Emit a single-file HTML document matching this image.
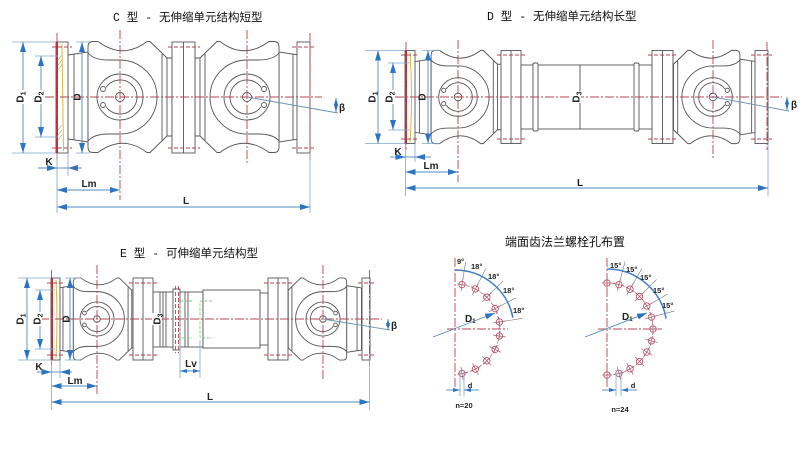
<!DOCTYPE html>
<html><head><meta charset="utf-8">
<style>
html,body{margin:0;padding:0;background:#fff;}
svg{display:block;}
.t{font-family:"Liberation Mono","Noto Sans CJK SC",monospace;font-size:11.5px;fill:#111;}
.t2{font-family:"Liberation Sans","Noto Sans CJK SC",sans-serif;font-size:12px;fill:#111;}
.o{stroke:#555;stroke-width:0.9;fill:#fff;}
.on{stroke:#555;stroke-width:0.9;fill:none;}
.cl{stroke:#b54452;stroke-width:0.9;stroke-dasharray:9 2 2 2;fill:none;}
.bd{stroke:#b54452;stroke-width:0.9;stroke-dasharray:4 2;fill:none;}
.dm{stroke:#4f89c2;stroke-width:0.9;fill:none;}
.ex{stroke:#7fa8d0;stroke-width:0.8;fill:none;}
.lb{font-family:"Liberation Sans",sans-serif;font-weight:bold;font-size:10px;fill:#222;}
.sm{font-family:"Liberation Sans",sans-serif;font-weight:bold;font-size:7.5px;fill:#222;}
</style></head><body>
<svg width="810" height="449" viewBox="0 0 810 449" xmlns="http://www.w3.org/2000/svg">
<defs>
<marker id="ah" viewBox="0 0 10 6" refX="10" refY="3" markerWidth="10" markerHeight="6" markerUnits="userSpaceOnUse" orient="auto-start-reverse"><path d="M0,0 L10,3 L0,6 Z" fill="#2b74c2"/></marker>
<marker id="as" viewBox="0 0 7 4" refX="7" refY="2" markerWidth="7" markerHeight="4" markerUnits="userSpaceOnUse" orient="auto-start-reverse"><path d="M0,0 L7,2 L0,4 Z" fill="#2b74c2"/></marker>
<g id="yk">
 <path class="o" vector-effect="non-scaling-stroke" d="M-52,-42 L-32,-45 L-32,45 L-52,42 Z"/>
 <path class="on" vector-effect="non-scaling-stroke" d="M-46,-43 V43"/>
 <rect class="o" vector-effect="non-scaling-stroke" x="46" y="-39" width="6" height="78"/>
 <path class="o" vector-effect="non-scaling-stroke" d="M-32,-50 Q-32,-55.5 -27,-55.5 L-22,-55.5 Q3,-37 27,-55.5 L30,-55.5 L47,-39 L47,39 L30,55.5 L27,55.5 Q3,37 -22,55.5 L-27,55.5 Q-32,55.5 -32,50 Z"/>
 <path class="on" vector-effect="non-scaling-stroke" d="M-32,-44 Q-26,-37 -12,-37 L0,-37 A37,37 0 0 1 0,37 L-12,37 Q-26,37 -32,44"/>
 <path class="on" vector-effect="non-scaling-stroke" d="M42,-43 V43"/>
 <circle class="on" vector-effect="non-scaling-stroke" r="23"/>
 <path class="on" vector-effect="non-scaling-stroke" d="M-14,-9.6 A17,17 0 1 1 -14,9.6"/>
 <circle class="on" vector-effect="non-scaling-stroke" cx="-17" cy="-8" r="2.5"/>
 <circle class="on" vector-effect="non-scaling-stroke" cx="-17" cy="8" r="2.5"/>
 <circle class="on" vector-effect="non-scaling-stroke" r="4.5"/>
</g>
<g id="hl"><circle r="3.2" fill="none" stroke="#c25064" stroke-width="0.9"/><line x1="0" y1="-6.5" x2="0" y2="6.5" stroke="#a06070" stroke-width="0.7"/><line x1="-5" y1="0" x2="5" y2="0" stroke="#a06070" stroke-width="0.7"/></g>
</defs>

<!-- ============ C TYPE ============ -->
<text class="t" x="113" y="21">C 型 - 无伸缩单元结构短型</text>
<use href="#yk" transform="translate(120,97)"/>
<use href="#yk" transform="translate(247,97) scale(-1,1)"/>
<rect class="o" x="56" y="42" width="12" height="111"/>
<rect class="o" x="172" y="42" width="23" height="111"/><line class="on" x1="183.5" y1="42" x2="183.5" y2="153"/>
<rect class="o" x="297" y="42" width="13" height="111"/>
<line x1="57" y1="42" x2="57" y2="153" stroke="#c42a36" stroke-width="2"/>
<line x1="62" y1="44" x2="63.5" y2="151" stroke="#dcb838" stroke-width="1"/>
<path d="M58,60 L62,55 M58,65 L62,60 M58,70 L62,65 M58,130 L62,125 M58,135 L62,130 M58,140 L62,135" stroke="#9aaa70" stroke-width="0.6"/>
<path class="cl" d="M45,97 H322 M57,33 V160 M120,30 V200 M247,30 V165 M310,33 V160"/>
<path class="bd" d="M52,47 H72 M52,148 H72 M168,47 H200 M168,148 H200 M292,47 H315 M292,148 H315"/>
<path class="ex" d="M12,42 H56 M12,153 H56 M35,56 H58 M35,137 H58 M76,42 H90 M76,153 H90 M57,153 V213 M68,153 V176 M310,153 V213"/>
<line class="dm" x1="23" y1="42" x2="23" y2="153" marker-start="url(#ah)" marker-end="url(#ah)"/>
<line class="dm" x1="41" y1="56" x2="41" y2="137" marker-start="url(#ah)" marker-end="url(#ah)"/>
<line class="dm" x1="82" y1="42" x2="82" y2="153" marker-start="url(#ah)" marker-end="url(#ah)"/>
<line class="dm" x1="38" y1="168" x2="57" y2="168" marker-end="url(#ah)"/>
<line class="dm" x1="82" y1="168" x2="68" y2="168" marker-end="url(#ah)"/>
<line class="dm" x1="57" y1="168" x2="68" y2="168"/>
<line class="dm" x1="57" y1="190" x2="120" y2="190" marker-start="url(#ah)" marker-end="url(#ah)"/>
<line class="dm" x1="57" y1="207" x2="310" y2="207" marker-start="url(#ah)" marker-end="url(#ah)"/>
<line x1="247" y1="97" x2="338" y2="113" stroke="#6a92b0" stroke-width="0.9"/>
<line class="dm" x1="336" y1="98" x2="336" y2="112" marker-start="url(#as)" marker-end="url(#as)"/>
<g transform="translate(20,97) rotate(-90)"><rect x="-7" y="-5" width="14" height="10" fill="#fff"/><text class="lb" text-anchor="middle" y="3.5">D<tspan font-size="7" dy="2">1</tspan></text></g>
<g transform="translate(38,97) rotate(-90)"><rect x="-7" y="-5" width="14" height="10" fill="#fff"/><text class="lb" text-anchor="middle" y="3.5">D<tspan font-size="7" dy="2">2</tspan></text></g>
<g transform="translate(77,97) rotate(-90)"><text class="lb" text-anchor="middle" y="3.5">D</text></g>
<text class="lb" x="49" y="165" text-anchor="middle">K</text>
<text class="lb" x="89" y="187" text-anchor="middle">Lm</text>
<text class="lb" x="186" y="204" text-anchor="middle">L</text>
<text class="lb" x="339" y="111">β</text>

<!-- ============ D TYPE ============ -->
<text class="t" x="487" y="20">D 型 - 无伸缩单元结构长型</text>
<use href="#yk" transform="translate(458,97) scale(.84)"/>
<use href="#yk" transform="translate(713,97) scale(-.84,.84)"/>
<rect class="o" x="405" y="50.5" width="10" height="93"/>
<rect class="o" x="501" y="50.5" width="20" height="93"/><line class="on" x1="511" y1="50.5" x2="511" y2="143.5"/>
<rect class="o" x="521" y="65" width="131" height="64"/>
<rect class="o" x="533" y="63" width="5" height="68" rx="1.5"/>
<rect class="o" x="634" y="63" width="5" height="68" rx="1.5"/>
<line class="on" x1="580" y1="65" x2="580" y2="129"/>
<rect class="o" x="652" y="50.5" width="21" height="93"/><line class="on" x1="662.5" y1="50.5" x2="662.5" y2="143.5"/>
<rect class="o" x="755" y="50.5" width="13" height="93"/>
<line x1="406" y1="50.5" x2="406" y2="143.5" stroke="#c42a36" stroke-width="2"/>
<path d="M410,52 Q413,97 410,142" stroke="#dcb838" stroke-width="1" fill="none"/>
<path class="cl" d="M395,97 H782 M406,42 V150 M458,40 V182 M713,40 V160 M767,42 V150"/>
<path class="bd" d="M401,55 H419 M401,139 H419 M497,55 H525 M497,139 H525 M648,55 H677 M648,139 H677 M751,55 H772 M751,139 H772"/>
<path class="ex" d="M365,50.5 H405 M365,143.5 H405 M388,63 H410 M388,130 H410 M422,50.5 H440 M422,143.5 H440 M405.5,143.5 V196 M415,143.5 V162 M768,143.5 V196"/>
<line class="dm" x1="378" y1="50.5" x2="378" y2="143.5" marker-start="url(#ah)" marker-end="url(#ah)"/>
<line class="dm" x1="393" y1="63" x2="393" y2="130" marker-start="url(#ah)" marker-end="url(#ah)"/>
<line class="dm" x1="428" y1="50.5" x2="428" y2="143.5" marker-start="url(#ah)" marker-end="url(#ah)"/>
<line class="dm" x1="390" y1="157" x2="405.5" y2="157" marker-end="url(#ah)"/>
<line class="dm" x1="431" y1="157" x2="415" y2="157" marker-end="url(#ah)"/>
<line class="dm" x1="405.5" y1="157" x2="415" y2="157"/>
<line class="dm" x1="405.5" y1="172" x2="458" y2="172" marker-start="url(#ah)" marker-end="url(#ah)"/>
<line class="dm" x1="405.5" y1="188" x2="768" y2="188" marker-start="url(#ah)" marker-end="url(#ah)"/>
<line x1="713" y1="97" x2="789" y2="111" stroke="#6a92b0" stroke-width="0.9"/>
<line class="dm" x1="787" y1="97" x2="787" y2="110" marker-start="url(#as)" marker-end="url(#as)"/>
<g transform="translate(372,97) rotate(-90)"><rect x="-7" y="-5" width="14" height="10" fill="#fff"/><text class="lb" text-anchor="middle" y="3.5">D<tspan font-size="7" dy="2">1</tspan></text></g>
<g transform="translate(389,97) rotate(-90)"><rect x="-7" y="-5" width="14" height="10" fill="#fff"/><text class="lb" text-anchor="middle" y="3.5">D<tspan font-size="7" dy="2">2</tspan></text></g>
<g transform="translate(422,97) rotate(-90)"><text class="lb" text-anchor="middle" y="3.5">D</text></g>
<g transform="translate(576,97) rotate(-90)"><rect x="-6" y="-5" width="12" height="10" fill="#fff"/><text class="lb" text-anchor="middle" y="3.5">D<tspan font-size="7" dy="2">3</tspan></text></g>
<text class="lb" x="398" y="155" text-anchor="middle">K</text>
<text class="lb" x="431" y="169" text-anchor="middle">Lm</text>
<text class="lb" x="580" y="186" text-anchor="middle">L</text>
<text class="lb" x="791" y="108">β</text>

<!-- ============ E TYPE ============ -->
<text class="t" x="120" y="257">E 型 - 可伸缩单元结构型</text>
<use href="#yk" transform="translate(97,319) scale(.74)"/>
<use href="#yk" transform="translate(323,319) scale(-.74,.74)"/>
<rect class="o" x="51" y="278" width="9" height="82"/>
<rect class="o" x="133" y="278" width="20" height="82"/><line class="on" x1="143" y1="278" x2="143" y2="360"/>
<rect class="o" x="153" y="292" width="50" height="55"/>
<path class="on" d="M160,292 V347 M163,292 V347 M166,292 V347 M185,292 V347 M188,292 V347"/>
<rect class="o" x="173" y="289" width="7" height="61"/>
<path class="bd" d="M175.5,286 V353 M178.5,286 V353"/>
<rect class="o" x="203" y="290" width="57" height="58"/>
<rect class="o" x="260" y="293" width="8" height="52"/>
<rect class="o" x="268" y="278" width="20" height="82"/><line class="on" x1="278" y1="278" x2="278" y2="360"/>
<rect class="o" x="362" y="278" width="8" height="82"/>
<path d="M192,301 H182 Q180,301 180,303 V336 Q180,338 182,338 H192 M212,301 H202 Q200,301 200,303 V336 Q200,338 202,338 H212" stroke="#8cc48c" stroke-width="0.9" stroke-dasharray="3 1.5" fill="none"/>
<line x1="52" y1="278" x2="52" y2="360" stroke="#c42a36" stroke-width="2"/>
<path d="M56,280 Q58,319 56,358" stroke="#dcb838" stroke-width="1" fill="none"/>
<path class="cl" d="M40,319 H382 M51.5,270 V365 M97,265 V395 M323,265 V380 M369.5,270 V365"/>
<path class="bd" d="M47,283 H64 M47,355 H64 M129,283 H157 M129,355 H157 M264,283 H292 M264,355 H292 M358,283 H374 M358,355 H374"/>
<path class="ex" d="M18,278 H51 M18,360 H51 M35,290 H55 M35,349 H55 M65,278 H80 M65,360 H80 M51.5,360 V410 M60,360 V378 M369.5,360 V410 M180,340 V378 M200,340 V378"/>
<line class="dm" x1="27" y1="278" x2="27" y2="360" marker-start="url(#ah)" marker-end="url(#ah)"/>
<line class="dm" x1="40" y1="290" x2="40" y2="349" marker-start="url(#ah)" marker-end="url(#ah)"/>
<line class="dm" x1="70" y1="278" x2="70" y2="360" marker-start="url(#ah)" marker-end="url(#ah)"/>
<line class="dm" x1="37" y1="372" x2="51.5" y2="372" marker-end="url(#ah)"/>
<line class="dm" x1="72" y1="372" x2="60" y2="372" marker-end="url(#ah)"/>
<line class="dm" x1="51.5" y1="372" x2="60" y2="372"/>
<line class="dm" x1="51.5" y1="386" x2="97" y2="386" marker-start="url(#ah)" marker-end="url(#ah)"/>
<line class="dm" x1="51.5" y1="402" x2="369.5" y2="402" marker-start="url(#ah)" marker-end="url(#ah)"/>
<line class="dm" x1="180" y1="371" x2="200" y2="371" marker-start="url(#as)" marker-end="url(#as)"/>
<line x1="323" y1="319" x2="390" y2="330" stroke="#6a92b0" stroke-width="0.9"/>
<line class="dm" x1="388" y1="319" x2="388" y2="330" marker-start="url(#as)" marker-end="url(#as)"/>
<g transform="translate(20,319) rotate(-90)"><rect x="-7" y="-5" width="14" height="10" fill="#fff"/><text class="lb" text-anchor="middle" y="3.5">D<tspan font-size="7" dy="2">1</tspan></text></g>
<g transform="translate(37,319) rotate(-90)"><rect x="-7" y="-5" width="14" height="10" fill="#fff"/><text class="lb" text-anchor="middle" y="3.5">D<tspan font-size="7" dy="2">2</tspan></text></g>
<g transform="translate(66,319) rotate(-90)"><text class="lb" text-anchor="middle" y="3.5">D</text></g>
<g transform="translate(157,319) rotate(-90)"><rect x="-6" y="-5" width="12" height="10" fill="#fff"/><text class="lb" text-anchor="middle" y="3.5">D<tspan font-size="7" dy="2">3</tspan></text></g>
<text class="lb" x="39" y="370" text-anchor="middle">K</text>
<text class="lb" x="75" y="384" text-anchor="middle">Lm</text>
<text class="lb" x="210" y="400" text-anchor="middle">L</text>
<text class="lb" x="191" y="367" text-anchor="middle">Lv</text>
<text class="lb" x="391" y="329">β</text>

<!-- ============ BOLT PATTERNS ============ -->
<text class="t2" x="505" y="246">端面齿法兰螺栓孔布置</text>

<!-- left n=20 -->
<path class="cl" d="M455,258 V393 M447,329 H508"/>
<path d="M462,284.6 A45,45 0 0 1 462,373.4" stroke="#c25064" stroke-width="0.7" stroke-dasharray="3 2" fill="none"/>
<path d="M462.5,281.6 L465.6,261.8 M476.8,286.2 L485.9,268.4 M488.9,295.1 L503.1,280.9 M497.8,307.2 L515.6,298.1 M502.4,321.5 L522.2,318.4" stroke="#777" stroke-width="0.6"/>
<path d="M455,270 A59,59 0 0 1 512.9,317.7" stroke="#3f80c4" stroke-width="1.5" fill="none"/>
<use href="#hl" transform="translate(462,284.6) rotate(9)"/>
<use href="#hl" transform="translate(475.4,288.9) rotate(27)"/>
<use href="#hl" transform="translate(486.8,297.2) rotate(45)"/>
<use href="#hl" transform="translate(495.1,308.6) rotate(63)"/>
<use href="#hl" transform="translate(499.4,322) rotate(81)"/>
<use href="#hl" transform="translate(499.4,336) rotate(99)"/>
<use href="#hl" transform="translate(495.1,349.4) rotate(117)"/>
<use href="#hl" transform="translate(486.8,360.8) rotate(135)"/>
<use href="#hl" transform="translate(475.4,369.1) rotate(153)"/>
<use href="#hl" transform="translate(462,373.4) rotate(171)"/>
<line class="dm" x1="433" y1="337" x2="495" y2="313" marker-end="url(#ah)"/>
<text class="sm" x="457" y="264">9°</text>
<text class="sm" x="471" y="269">18°</text>
<text class="sm" x="488" y="279">18°</text>
<text class="sm" x="503" y="293">18°</text>
<text class="sm" x="513" y="313">18°</text>
<text class="lb" x="465" y="322" font-size="9">D<tspan font-size="6" dy="1">1</tspan></text>
<path class="ex" d="M460,370 V396 M464,370 V396"/>
<line class="dm" x1="446" y1="390" x2="460" y2="390" marker-end="url(#as)"/>
<line class="dm" x1="479" y1="390" x2="464" y2="390" marker-end="url(#as)"/>
<text class="sm" x="470" y="388" text-anchor="middle">d</text>
<text class="sm" x="464" y="408" text-anchor="middle">n=20</text>

<!-- right n=24 -->
<path class="cl" d="M607,258 V388 M598,329 H662"/>
<path d="M607,283 A46,46 0 0 1 607,375" stroke="#c25064" stroke-width="0.7" stroke-dasharray="3 2" fill="none"/>
<path d="M619.7,281.7 L625.1,261.4 M631.5,286.6 L642,268.4 M641.6,294.4 L656.5,279.5 M649.4,304.5 L667.6,294 M654.3,316.3 L674.6,310.9" stroke="#777" stroke-width="0.6"/>
<path d="M607,269 A60,60 0 0 1 666.1,318.6" stroke="#3f80c4" stroke-width="1.5" fill="none"/>
<use href="#hl" transform="translate(607,283) rotate(0)"/>
<use href="#hl" transform="translate(618.9,284.6) rotate(15)"/>
<use href="#hl" transform="translate(630,289.2) rotate(30)"/>
<use href="#hl" transform="translate(639.5,296.5) rotate(45)"/>
<use href="#hl" transform="translate(646.8,306) rotate(60)"/>
<use href="#hl" transform="translate(651.4,317.1) rotate(75)"/>
<use href="#hl" transform="translate(653,329) rotate(90)"/>
<use href="#hl" transform="translate(651.4,340.9) rotate(105)"/>
<use href="#hl" transform="translate(646.8,352) rotate(120)"/>
<use href="#hl" transform="translate(639.5,361.5) rotate(135)"/>
<use href="#hl" transform="translate(630,368.8) rotate(150)"/>
<use href="#hl" transform="translate(618.9,373.4) rotate(165)"/>
<use href="#hl" transform="translate(607,375) rotate(180)"/>
<line class="dm" x1="585" y1="337" x2="647" y2="313" marker-end="url(#ah)"/>
<text class="sm" x="610" y="268">15°</text>
<text class="sm" x="626" y="272">15°</text>
<text class="sm" x="640" y="280">15°</text>
<text class="sm" x="653" y="293">15°</text>
<text class="sm" x="662" y="308">15°</text>
<text class="lb" x="622" y="320" font-size="9">D<tspan font-size="6" dy="1">1</tspan></text>
<path class="ex" d="M616,370 V396 M621,370 V396"/>
<line class="dm" x1="602" y1="390" x2="616" y2="390" marker-end="url(#as)"/>
<line class="dm" x1="637" y1="390" x2="621" y2="390" marker-end="url(#as)"/>
<text class="sm" x="633" y="388" text-anchor="middle">d</text>
<text class="sm" x="620" y="412" text-anchor="middle">n=24</text>
</svg>
</body></html>
